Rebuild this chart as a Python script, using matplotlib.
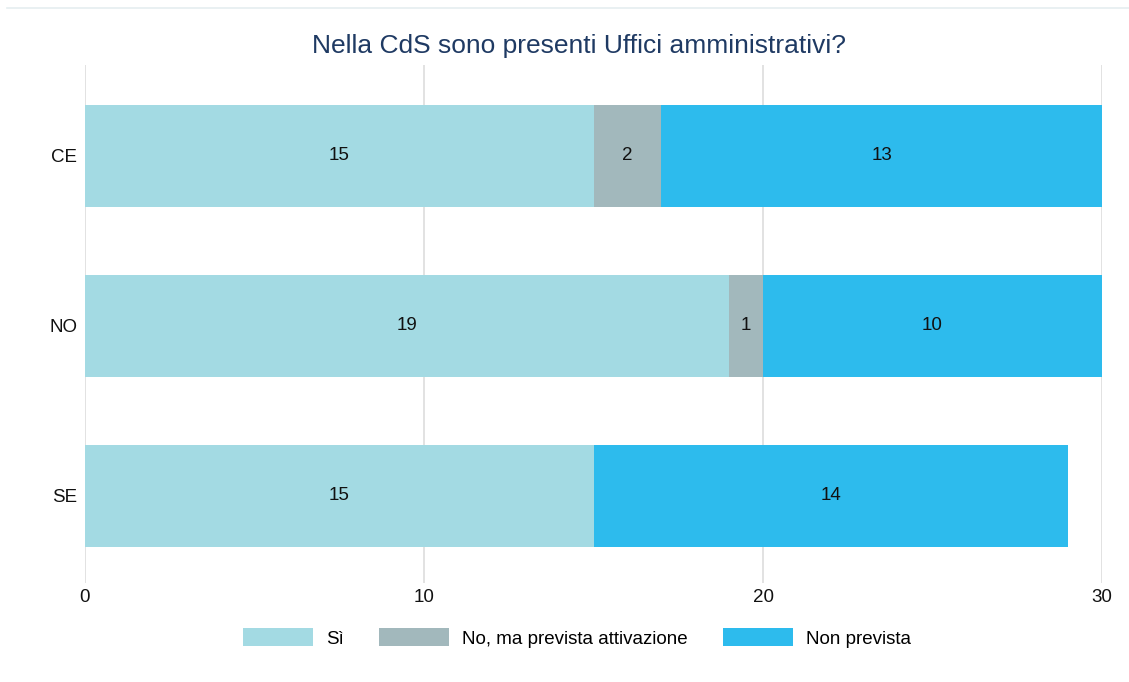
import matplotlib
matplotlib.use("Agg")
import matplotlib.pyplot as plt
from matplotlib.lines import Line2D

plt.rcParams['font.family'] = ['Liberation Sans', 'DejaVu Sans']

categories = ["CE", "NO", "SE"]
series_names = ["Sì", "No, ma prevista attivazione", "Non prevista"]
si = [15, 19, 15]
no_prevista = [2, 1, 0]
non_prevista = [13, 10, 14]
colors = ["#a3dae3", "#a2b8bc", "#2dbbed"]
xticks = [0, 10, 20, 30]

W, H = 1129, 682
fig = plt.figure(figsize=(W / 100, H / 100), dpi=100)
ax = fig.add_axes([85 / W, 1 - 583 / H, (1102 - 85) / W, (583 - 65) / H])

fig.add_artist(Line2D([7 / W, 1], [1 - 8 / H, 1 - 8 / H], color="#e5eef0", lw=1.2))

ypos = list(range(len(categories)))
left = [0] * len(categories)
for name, vals, c in zip(series_names, [si, no_prevista, non_prevista], colors):
    bars = ax.barh(ypos, vals, left=left, height=0.6, color=c, label=name, zorder=2)
    for b, v in zip(bars, vals):
        if v > 0:
            ax.text(b.get_x() + b.get_width() / 2, b.get_y() + b.get_height() / 2,
                    str(v), ha="center", va="center", fontsize=13.5, color="#111111", zorder=3)
    left = [l + v for l, v in zip(left, vals)]

ax.set_ylim(2.512, -0.535)
ax.set_xlim(0, 30)
ax.set_yticks(ypos)
ax.set_yticklabels(categories, fontsize=13.5)
ax.set_xticks(xticks)
ax.set_xticklabels([str(t) for t in xticks], fontsize=13.5)
ax.tick_params(axis="both", length=0, colors="#111111")
ax.tick_params(axis="y", pad=5.5)
ax.tick_params(axis="x", pad=4.5)
for s in ax.spines.values():
    s.set_visible(False)
ax.grid(axis="x", color="#dddddd", lw=1.2, zorder=0)
ax.set_axisbelow(True)

fig.text(579 / W, 1 - 46 / H, "Nella CdS sono presenti Uffici amministrativi?",
         ha="center", va="center", fontsize=19, color="#1f3a63")

fig.legend(loc="center", bbox_to_anchor=(577 / W, 1 - 638 / H), ncol=3, frameon=False,
           fontsize=13.5, handlelength=3.73, handleheight=1.07, handletextpad=0.7,
           columnspacing=1.9)

fig.savefig("out.png", dpi=100)
